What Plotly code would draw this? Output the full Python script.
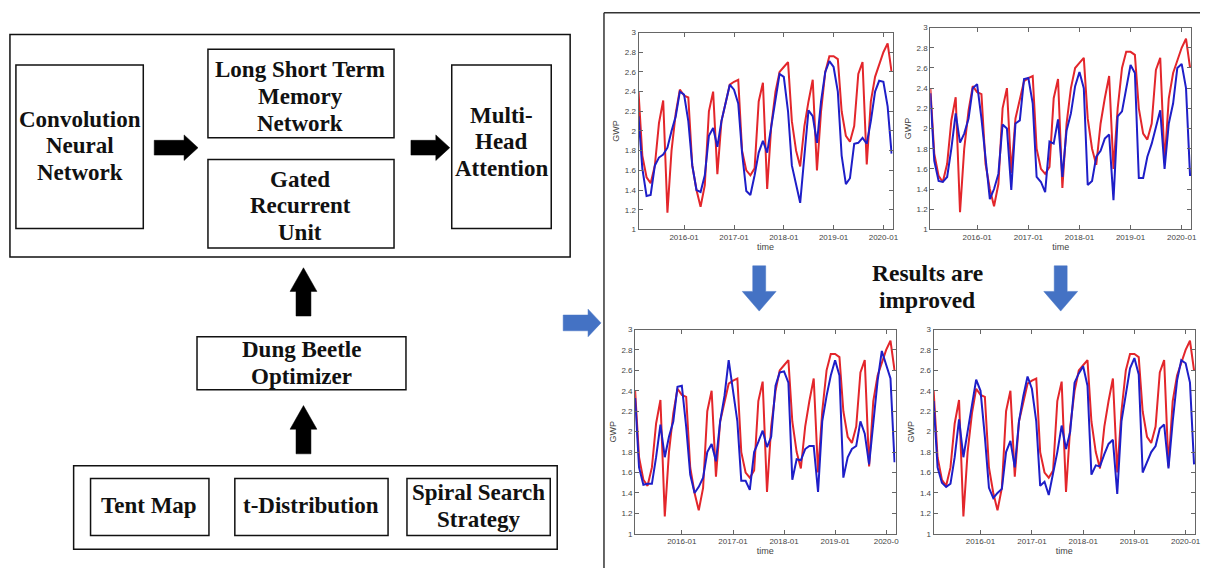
import plotly.graph_objects as go
import pandas as pd

W, H = 1206, 573

# ---------------- data ----------------
months = pd.date_range("2015-02-01", periods=62, freq="MS")

actual = [2.40, 1.75, 1.53, 1.47, 1.65, 2.08, 2.31, 1.17, 1.80, 2.18, 2.42, 2.36,
          2.34, 1.65, 1.40, 1.23, 1.45, 2.20, 2.40, 1.56, 2.10, 2.30, 2.47, 2.50,
          2.52, 1.80, 1.60, 1.55, 1.62, 2.30, 2.49, 1.41, 2.05, 2.40, 2.60, 2.65,
          2.70, 2.10, 1.80, 1.64, 2.05, 2.30, 2.52, 1.60, 2.20, 2.60, 2.76, 2.76,
          2.73, 2.20, 1.95, 1.89, 2.05, 2.58, 2.70, 1.66, 2.30, 2.55, 2.68, 2.80,
          2.89, 2.60]

pred_top_left = [2.15, 1.62, 1.34, 1.35, 1.65, 1.73, 1.76, 1.83, 2.00, 2.15, 2.40, 2.37,
                 2.10, 1.65, 1.40, 1.38, 1.55, 1.95, 2.03, 1.84, 2.10, 2.30, 2.47, 2.42,
                 2.28, 1.78, 1.39, 1.35, 1.55, 1.78, 1.90, 1.78, 2.05, 2.30, 2.58, 2.55,
                 2.20, 1.65, 1.45, 1.27, 1.75, 2.21, 2.15, 1.88, 2.30, 2.60, 2.71, 2.65,
                 2.40, 1.75, 1.46, 1.52, 1.87, 1.88, 1.93, 1.87, 2.10, 2.40, 2.51, 2.50,
                 2.25, 1.77]

pred_top_right = [2.35, 1.68, 1.48, 1.47, 1.52, 1.80, 2.15, 1.86, 1.95, 2.10, 2.40, 2.44,
                  2.10, 1.70, 1.30, 1.40, 1.55, 2.04, 2.00, 1.39, 2.05, 2.08, 2.49, 2.50,
                  2.25, 1.52, 1.47, 1.37, 1.87, 1.85, 2.09, 1.52, 1.98, 2.15, 2.42, 2.56,
                  2.40, 1.44, 1.48, 1.72, 1.78, 1.90, 1.94, 1.29, 2.12, 2.17, 2.40, 2.63,
                  2.55, 1.51, 1.51, 1.72, 1.85, 2.00, 2.18, 1.60, 2.05, 2.25, 2.60, 2.64,
                  2.40, 1.53]

pred_bottom_left = [2.33, 1.65, 1.48, 1.49, 1.49, 1.75, 2.07, 1.75, 1.95, 2.10, 2.44, 2.45,
                    2.05, 1.58, 1.40, 1.46, 1.55, 1.80, 1.88, 1.71, 2.10, 2.35, 2.70, 2.40,
                    2.10, 1.52, 1.52, 1.43, 1.80, 1.90, 2.01, 1.85, 1.95, 2.45, 2.58, 2.59,
                    2.48, 1.53, 1.73, 1.72, 1.83, 1.86, 1.86, 1.41, 2.10, 2.35, 2.55, 2.70,
                    2.55, 1.55, 1.75, 1.83, 1.86, 2.10, 1.98, 1.68, 2.10, 2.50, 2.79, 2.65,
                    2.52, 1.70]

pred_bottom_right = [2.30, 1.65, 1.50, 1.46, 1.49, 1.75, 2.12, 1.75, 2.00, 2.25, 2.51, 2.40,
                     1.95, 1.45, 1.35, 1.40, 1.44, 1.80, 1.91, 1.65, 2.10, 2.35, 2.54, 2.42,
                     2.10, 1.47, 1.51, 1.38, 1.60, 1.80, 2.06, 1.83, 2.00, 2.48, 2.57, 2.64,
                     2.45, 1.58, 1.67, 1.66, 1.78, 1.88, 1.92, 1.39, 2.10, 2.38, 2.62, 2.72,
                     2.56, 1.60, 1.70, 1.80, 1.86, 2.03, 2.07, 1.64, 2.10, 2.50, 2.70, 2.67,
                     2.48, 1.68]

y_tick_vals = [1.0, 1.2, 1.4, 1.6, 1.8, 2.0, 2.2, 2.4, 2.6, 2.8, 3.0]
y_tick_text = ["1", "1.2", "1.4", "1.6", "1.8", "2", "2.2", "2.4", "2.6", "2.8", "3"]
x_tick_dates = ["2016-01-01", "2017-01-01", "2018-01-01", "2019-01-01", "2020-01-01"]
x_tick_text = ["2016-01", "2017-01", "2018-01", "2019-01", "2020-01"]
x_tick_text_cut = ["2016-01", "2017-01", "2018-01", "2019-01", "2020-0"]

diagram_labels = {
    "cnn": ["Convolution", "Neural", "Network"],
    "lstm": ["Long Short Term", "Memory", "Network"],
    "gru": ["Gated", "Recurrent", "Unit"],
    "mha": ["Multi-", "Head", "Attention"],
    "dbo": ["Dung Beetle", "Optimizer"],
    "tent": ["Tent Map"],
    "tdist": ["t-Distribution"],
    "spiral": ["Spiral Search", "Strategy"],
    "result": ["Results are", "improved"],
}

# ---------------- helpers ----------------
def X(px):
    return px / W


def Y(py):
    return 1 - py / H


RED = "#e3262b"
BLUE = "#1e1ec8"
ARROW_BLUE = "#4472c4"

fig = go.Figure()

# panels: (pred series, left, right, top, bottom, tick text)
panels = [
    (pred_top_left, 641.7, 897.0, 29.0, 229.0, x_tick_text),
    (pred_top_right, 935.0, 1197.0, 24.0, 229.0, x_tick_text),
    (pred_bottom_left, 638.3, 900.0, 330.7, 538.3, x_tick_text_cut),
    (pred_bottom_right, 938.3, 1201.0, 330.7, 538.3, x_tick_text),
]

layout_axes = {}
for i, (pred, l, r, t, b, ttext) in enumerate(panels, start=1):
    xa = "x" if i == 1 else f"x{i}"
    ya = "y" if i == 1 else f"y{i}"
    fig.add_trace(go.Scatter(x=months, y=actual, mode="lines", xaxis=xa, yaxis=ya,
                             line=dict(color=RED, width=2), showlegend=False,
                             name="actual"))
    fig.add_trace(go.Scatter(x=months, y=pred, mode="lines", xaxis=xa, yaxis=ya,
                             line=dict(color=BLUE, width=2), showlegend=False,
                             name="predicted"))
    axis_common = dict(showline=True, linecolor="#666", linewidth=1, mirror="ticks",
                       ticks="inside", ticklen=4, tickcolor="#666", showgrid=False,
                       zeroline=False, tickfont=dict(family="Liberation Sans", size=8, color="#444"))
    layout_axes["xaxis" if i == 1 else f"xaxis{i}"] = dict(
        domain=[X(l), X(r)], anchor=ya, type="date",
        range=["2015-02-01", "2020-03-08"],
        tickmode="array", tickvals=x_tick_dates, ticktext=ttext,
        title=dict(text="time", font=dict(family="Liberation Sans", size=9, color="#444"), standoff=1),
        **axis_common)
    layout_axes["yaxis" if i == 1 else f"yaxis{i}"] = dict(
        domain=[Y(b), Y(t)], anchor=xa, range=[1, 3],
        tickmode="array", tickvals=y_tick_vals, ticktext=y_tick_text,
        title=dict(text="GWP", font=dict(family="Liberation Sans", size=9, color="#444"), standoff=3),
        **axis_common)

shapes = []


def rect(x0, y0, x1, y1, w=1.5, color="#111"):
    shapes.append(dict(type="rect", xref="paper", yref="paper",
                       x0=X(x0), x1=X(x1), y0=Y(y1), y1=Y(y0),
                       line=dict(color=color, width=w), fillcolor="rgba(0,0,0,0)"))


def poly(points, color):
    d = "M " + " L ".join(f"{X(px):.5f},{Y(py):.5f}" for px, py in points) + " Z"
    shapes.append(dict(type="path", xref="paper", yref="paper", path=d,
                       fillcolor=color, line=dict(color=color, width=0.5)))


def right_arrow(x0, x1, cy, sh, hh, hl, color):
    poly([(x0, cy - sh), (x1 - hl, cy - sh), (x1 - hl, cy - hh), (x1, cy),
          (x1 - hl, cy + hh), (x1 - hl, cy + sh), (x0, cy + sh)], color)


def up_arrow(cx, ytip, ybot, sh, hh, hl, color):
    poly([(cx - sh, ybot), (cx - sh, ytip + hl), (cx - hh, ytip + hl), (cx, ytip),
          (cx + hh, ytip + hl), (cx + sh, ytip + hl), (cx + sh, ybot)], color)


def down_arrow(cx, ytop, ytip, sh, hh, hl, color):
    poly([(cx - sh, ytop), (cx - sh, ytip - hl), (cx - hh, ytip - hl), (cx, ytip),
          (cx + hh, ytip - hl), (cx + sh, ytip - hl), (cx + sh, ytop)], color)


# left diagram boxes
rect(10, 31, 573, 257)
rect(16, 62, 144, 228)
rect(209, 46, 396, 136)
rect(209, 158, 396, 248)
rect(454, 62, 554, 228)
rect(198, 338, 408, 392)
rect(74, 469, 560, 554)
rect(91, 482, 210, 540)
rect(236, 482, 390, 540)
rect(409, 482, 553, 540)

# black arrows
right_arrow(155, 199, 146, 7.5, 13, 14, "#000")
right_arrow(413, 452, 146, 7.5, 13, 14, "#000")
up_arrow(305, 268, 317, 7.5, 13.5, 24, "#000")
up_arrow(305, 408, 457, 7.5, 13.5, 24, "#000")

# blue arrows
right_arrow(566, 604, 324, 8, 14, 13, ARROW_BLUE)
down_arrow(763, 266, 312, 6.5, 17, 20, ARROW_BLUE)
down_arrow(1066, 266, 312, 6.5, 17, 20, ARROW_BLUE)

# right panel frame
shapes.append(dict(type="line", xref="paper", yref="paper", x0=X(607), x1=X(607),
                   y0=Y(573), y1=Y(9), line=dict(color="#333", width=1.5)))
shapes.append(dict(type="line", xref="paper", yref="paper", x0=X(607), x1=X(1206),
                   y0=Y(9), y1=Y(9), line=dict(color="#333", width=1.5)))

annotations = []


def text_block(lines, cx, cy, size=23, spacing=27):
    n = len(lines)
    for k, line in enumerate(lines):
        yy = cy + (k - (n - 1) / 2) * spacing
        annotations.append(dict(x=X(cx), y=Y(yy), xref="paper", yref="paper",
                                text=f"<b>{line}</b>", showarrow=False,
                                xanchor="center", yanchor="middle",
                                font=dict(family="Liberation Serif", size=size, color="#111")))


text_block(diagram_labels["cnn"], 80, 144)
text_block(diagram_labels["lstm"], 302, 94)
text_block(diagram_labels["gru"], 302, 205)
text_block(diagram_labels["mha"], 504, 140)
text_block(diagram_labels["dbo"], 303, 365)
text_block(diagram_labels["tent"], 150, 510)
text_block(diagram_labels["tdist"], 313, 510)
text_block(diagram_labels["spiral"], 481, 510)
text_block(diagram_labels["result"], 932, 287, size=23.5, spacing=27)

fig.update_layout(width=W, height=H, margin=dict(l=0, r=0, t=0, b=0),
                  paper_bgcolor="white", plot_bgcolor="white",
                  shapes=shapes, annotations=annotations, showlegend=False,
                  **layout_axes)

fig.write_html("out.html", config={"displayModeBar": False},
               post_script="document.body.style.margin='0';document.body.style.overflow='hidden';")
